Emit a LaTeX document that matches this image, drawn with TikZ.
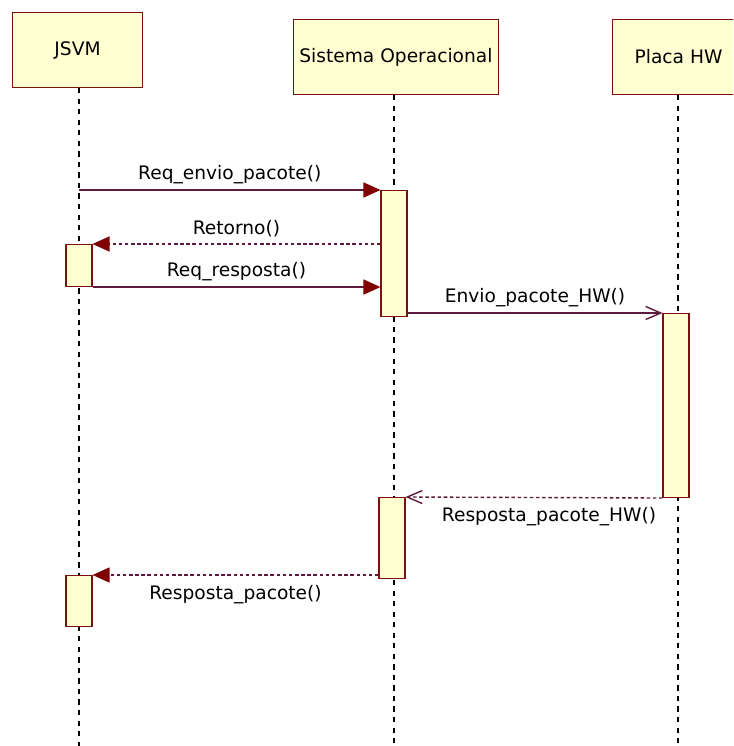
\documentclass[tikz,border=0pt]{standalone}
\usepackage{fontspec}
\setmainfont{DejaVu Sans}
\usetikzlibrary{arrows.meta}
\definecolor{objfill}{HTML}{FFFFD2}
\definecolor{objline}{HTML}{7A1010}
\definecolor{msgline}{HTML}{5E1A3C}
\definecolor{tipred}{HTML}{800000}

\begin{document}
\begin{tikzpicture}[x=0.02cm, y=-0.02cm, font=\fontsize{10.6}{12}\selectfont,
	obj/.style={draw=objline, fill=objfill, line width=0.6pt, anchor=north west},
	act/.style={draw=objline, fill=objfill, line width=0.6pt, anchor=north, minimum width=0.52cm, inner sep=0pt},
	life/.style={black, line width=0.8pt, dash pattern=on 3pt off 3pt},
	call/.style={msgline, line width=0.8pt, -{Triangle[length=0.34cm, width=0.3cm, color=tipred]}},
	ret/.style={call, dash pattern=on 2pt off 1.5pt},
	send/.style={msgline, line width=0.8pt, -{Straight Barb[length=0.3cm, width=0.26cm]}},
	back/.style={send, dash pattern=on 2pt off 1.5pt}]
	\useasboundingbox (0,0) rectangle (733,746);
	\clip (0,0) rectangle (733,746);

	\node [obj, minimum width=2.6cm, minimum height=1.5cm] (JSVM) at (12,12) {JSVM};
	\node [obj, minimum width=4cm, minimum height=1.5cm] (SO) at (293,19) {Sistema Operacional};
	\node [obj, minimum width=2.64cm, minimum height=1.5cm] (HW) at (612,19) {Placa HW};

	\coordinate (JSVMend) at (79,746);
	\coordinate (SOend) at (394,746);
	\coordinate (HWend) at (678,746);
	\draw [life] (JSVMend |- JSVM.south) -- (JSVMend);
	\draw [life] (SOend |- SO.south) -- (SOend);
	\draw [life] (HWend |- HW.south) -- (HWend);

	\node [act, minimum height=2.52cm] (SO1) at (394,190) {};
	\node [act, minimum height=0.84cm] (JSVM1) at (79,244) {};
	\node [act, minimum height=3.68cm] (HW1) at (676,313) {};
	\node [act, minimum height=1.62cm] (SO2) at (392,497) {};
	\node [act, minimum height=1.02cm] (JSVM2) at (79,575) {};

	\draw [call] (JSVMend |- SO1.north) to node [above, black] {Req\_envio\_pacote()} (SO1.north west);
	\draw [ret] (SO1.west |- JSVM1.north) to node [above, black] {Retorno()} (JSVM1.north east);
	\draw [call] (JSVM1.south east) to node [above, black] {Req\_resposta()} (SO1.west |- JSVM1.south);
	\draw [send] (SO1.east |- HW1.north) to node [above, black] {Envio\_pacote\_HW()} (HW1.north west);
	\draw [back] (HW1.south west) to node [below=2pt, black, xshift=0.3cm] {Resposta\_pacote\_HW()} (SO2.north east);
	\draw [ret] (SO2.west |- JSVM2.north) to node [below=2pt, black] {Resposta\_pacote()} (JSVM2.north east);
\end{tikzpicture}
\end{document}
